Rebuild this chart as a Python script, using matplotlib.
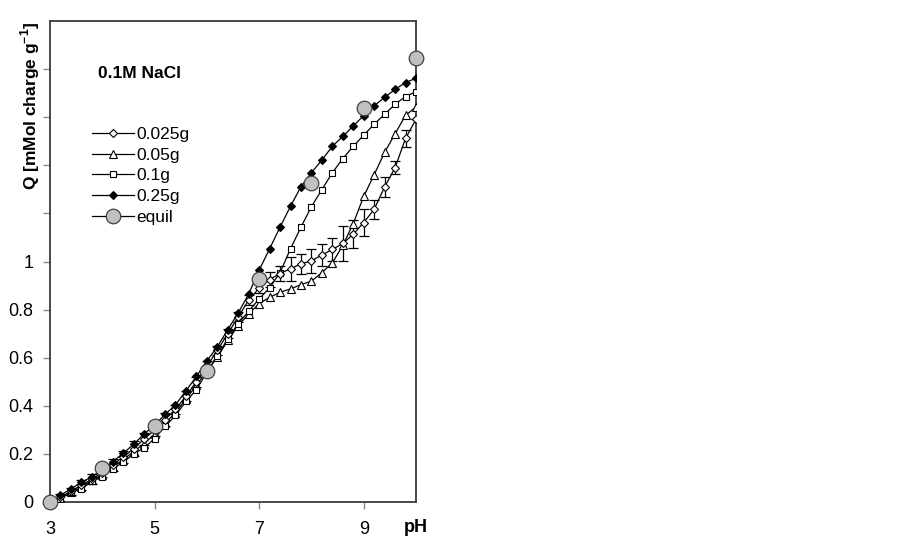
import matplotlib
matplotlib.use("Agg")
import matplotlib.pyplot as plt
from matplotlib.lines import Line2D
from matplotlib.ticker import FixedLocator, FuncFormatter

plt.rcParams['font.family'] = ['Liberation Sans', 'DejaVu Sans']
plt.rcParams['mathtext.fontset'] = 'custom'
plt.rcParams['mathtext.rm'] = 'Liberation Sans'
plt.rcParams['mathtext.bf'] = 'Liberation Sans:bold'

# ---- data ----
pH = [3.2, 3.4, 3.6, 3.8, 4.0, 4.2, 4.4, 4.6, 4.8, 5.0, 5.2, 5.4, 5.6, 5.8,
      6.0, 6.2, 6.4, 6.6, 6.8, 7.0, 7.2, 7.4, 7.6, 7.8, 8.0, 8.2, 8.4, 8.6,
      8.8, 9.0, 9.2, 9.4, 9.6, 9.8, 10.0]

q_0025 = [0.020, 0.045, 0.070, 0.095, 0.122, 0.155, 0.187, 0.222, 0.262, 0.300,
          0.343, 0.385, 0.440, 0.500, 0.565, 0.630, 0.700, 0.770, 0.839, 0.890,
          0.925, 0.950, 0.970, 0.990, 1.003, 1.027, 1.050, 1.075, 1.113, 1.162,
          1.217, 1.310, 1.390, 1.512, 1.591]
err_0025 = [0.015, 0.015, 0.02, 0.02, 0.02, 0.025, 0.025, 0.03, 0.025, 0.025,
            0.025, 0.02, 0.02, 0.02, 0.02, 0.02, 0.02, 0.02, 0.02, 0.02,
            0.03, 0.03, 0.05, 0.04, 0.05, 0.047, 0.046, 0.072, 0.058, 0.055,
            0.04, 0.04, 0.026, 0.035, 0.0]

q_005 = [0.015, 0.040, 0.062, 0.090, 0.113, 0.145, 0.176, 0.210, 0.243, 0.282,
         0.327, 0.372, 0.428, 0.485, 0.545, 0.601, 0.672, 0.733, 0.782, 0.825,
         0.851, 0.872, 0.886, 0.904, 0.918, 0.954, 0.994, 1.067, 1.158, 1.271,
         1.361, 1.454, 1.531, 1.608, 1.642]

q_01 = [0.013, 0.040, 0.054, 0.086, 0.105, 0.138, 0.165, 0.200, 0.225, 0.264,
        0.314, 0.360, 0.418, 0.467, 0.540, 0.608, 0.678, 0.742, 0.793, 0.845,
        0.890, 0.954, 1.053, 1.143, 1.228, 1.299, 1.369, 1.428, 1.479, 1.525,
        1.571, 1.612, 1.654, 1.686, 1.706]

q_025 = [0.028, 0.055, 0.082, 0.105, 0.135, 0.168, 0.203, 0.240, 0.283, 0.320,
         0.364, 0.404, 0.462, 0.522, 0.587, 0.645, 0.717, 0.786, 0.865, 0.964,
         1.053, 1.143, 1.230, 1.311, 1.369, 1.422, 1.479, 1.520, 1.563, 1.607,
         1.648, 1.682, 1.716, 1.744, 1.762]

pH_equil = [3, 4, 5, 6, 7, 8, 9, 10]
q_equil = [0.0, 0.140, 0.318, 0.545, 0.928, 1.328, 1.640, 1.845]

labels = ['0.025g', '0.05g', '0.1g', '0.25g', 'equil']
title_txt = '0.1M NaCl'

# ---- figure ----
fig = plt.figure(figsize=(9.0, 5.48), dpi=100)
ax = fig.add_axes([50/900, 1-502/548, 366/900, 481/548])

lw = 0.9
st_d = dict(marker='D', ms=3.9, mfc='white', mec='black', mew=0.8)
st_t = dict(marker='^', ms=5.3, mfc='white', mec='black', mew=0.8)
st_s = dict(marker='s', ms=4.9, mfc='white', mec='black', mew=0.8)
st_f = dict(marker='D', ms=3.9, mfc='black', mec='black', mew=0.8)
st_o = dict(marker='o', ms=10.5, mfc='#c0c0c0', mec='#404040', mew=0.9)

ax.errorbar(pH, q_0025, yerr=err_0025, fmt='none', ecolor='black',
            elinewidth=0.9, capsize=3.5, capthick=0.9, zorder=2)
ax.plot(pH, q_005, '-', color='black', lw=lw, zorder=3, **st_t)
ax.plot(pH, q_01, '-', color='black', lw=lw, zorder=4, **st_s)
ax.plot(pH, q_0025, '-', color='black', lw=lw, zorder=5, **st_d)
ax.plot(pH, q_025, '-', color='black', lw=lw, zorder=6, **st_f)
ax.plot(pH_equil, q_equil, linestyle='none', zorder=7, clip_on=False, **st_o)

ax.set_xlim(3, 10)
ax.set_ylim(0, 2)
ax.xaxis.set_major_locator(FixedLocator([3, 5, 7, 9]))
ax.yaxis.set_major_locator(FixedLocator([0, 0.2, 0.4, 0.6, 0.8, 1.0, 1.2, 1.4, 1.6, 1.8]))

def yfmt(v, pos):
    if v > 1.0001:
        return ''
    return '%g' % round(v, 1)
ax.yaxis.set_major_formatter(FuncFormatter(yfmt))

for s in ax.spines.values():
    s.set_color('#3a3a3a')
    s.set_linewidth(1.3)
ax.tick_params(axis='both', direction='out', length=5, width=1.0,
               color='#8a8a8a', labelsize=13, labelcolor='black')
ax.tick_params(axis='x', pad=9)
ax.tick_params(axis='y', pad=7)

ax.text(10.0, -0.108, 'pH', ha='center', va='center', fontsize=13,
        fontweight='bold')
fig.text(30/900, 1-106/548, r'Q [mMol charge g$^{\mathbf{-1}}$]',
         rotation=90, ha='center', va='center', fontsize=12.5,
         fontweight='bold')
ax.text(0.13, (502-73)/481, title_txt, transform=ax.transAxes,
        ha='left', va='center', fontsize=12.5, fontweight='bold')

handles = [
    Line2D([], [], color='black', lw=lw, **st_d),
    Line2D([], [], color='black', lw=lw, **st_t),
    Line2D([], [], color='black', lw=lw, **st_s),
    Line2D([], [], color='black', lw=lw, **st_f),
    Line2D([], [], color='black', lw=lw, **st_o),
]
ax.legend(handles, labels, loc='upper left', bbox_to_anchor=(0.115, 0.78),
          frameon=False, fontsize=12.5, handlelength=2.4, handletextpad=0.15,
          labelspacing=0.32, borderpad=0, borderaxespad=0)

fig.savefig('out.png', dpi=100)
